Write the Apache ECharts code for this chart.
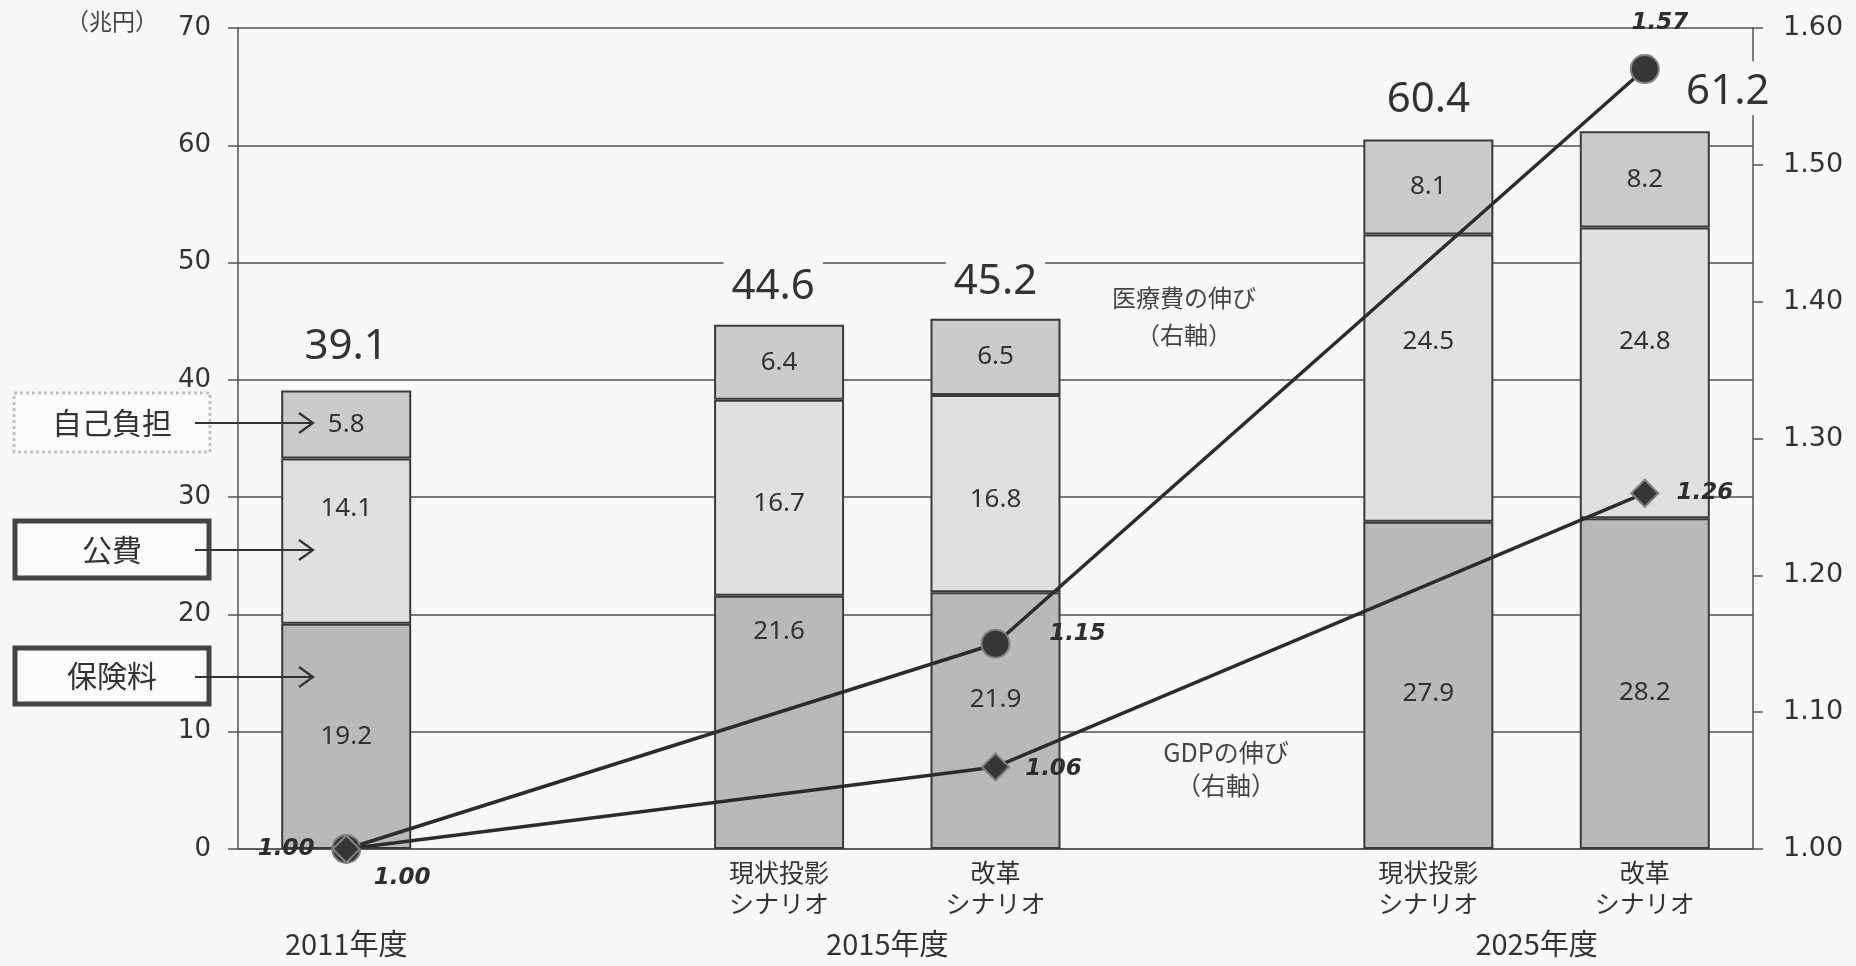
<!DOCTYPE html>
<html>
<head>
<meta charset="utf-8">
<script src="https://cdn.jsdelivr.net/npm/echarts@6/dist/echarts.min.js"></script>
<style>
html, body { margin: 0; padding: 0; background: #f8f8f8; }
#main { width: 1856px; height: 966px; }
</style>
</head>
<body>
<div id="main"></div>
<script>
// categories: 2011, (gap), 2015 x2, (gap), 2025 x2
var categories = ['', '', '現状投影\nシナリオ', '改革\nシナリオ', '', '現状投影\nシナリオ', '改革\nシナリオ'];
var hokenryo = [19.2, null, 21.6, 21.9, null, 27.9, 28.2];   // 保険料
var kouhi = [14.1, null, 16.7, 16.8, null, 24.5, 24.8];      // 公費
var jikoFutan = [5.8, null, 6.4, 6.5, null, 8.1, 8.2];       // 自己負担
var totals = [39.1, null, 44.6, 45.2, null, 60.4, 61.2];
var iryohiNobi = [1.00, null, null, 1.15, null, null, 1.57]; // 医療費の伸び
var gdpNobi = [1.00, null, null, 1.06, null, null, 1.26];    // GDPの伸び
var yearGroups = ['2011年度', '2015年度', '2025年度'];
var yearGroupAt = [0.5, 3, 6];

// label tweaks (style only)
var hokenryoShift = [0, 0, -91, -21, 0, 8, 9];
var kouhiShift = [-33, 0, 6, 6, 0, -37, -31];
var totalShift = [[0, -6], null, [-6, -2], [0, 0], null, [0, -4], [83, -2]];
var iryohiLabelPos = [[56, 29], null, null, [82, -10], null, null, [15, -46]];
var gdpLabelPos = [[-60, 0], null, null, [58, 2], null, null, [60, 0]];

var chart = echarts.init(document.getElementById('main'));

function shifted(values, shifts) {
  return values.map(function (v, i) {
    if (v == null) return null;
    return { value: v, label: { offset: [0, shifts[i]] } };
  });
}

function lineData(values, pos) {
  return values.map(function (v, i) {
    if (v == null) return null;
    return { value: v, label: { offset: pos[i] } };
  });
}

var segLabel = {
  show: true,
  position: 'inside',
  color: '#333',
  fontFamily: 'Noto Sans',
  fontSize: 26,
  formatter: function (p) { return p.value.toFixed(1); }
};
var barBorder = { borderColor: '#3a3a3a', borderWidth: 2 };
var lineLabel = {
  show: true,
  position: 'inside',
  color: '#2e2e2e',
  fontFamily: 'DejaVu Sans',
  fontWeight: 'bold',
  fontStyle: 'italic',
  fontSize: 23,
  formatter: function (p) { return p.value.toFixed(2); }
};
var jpText = function (txt, x, y, size, color, lh) {
  return {
    type: 'text', x: x, y: y, z: 100,
    style: {
      text: txt, fill: color, fontFamily: 'Noto Sans CJK JP', fontSize: size,
      lineHeight: lh || size * 1.3, align: 'center', verticalAlign: 'middle'
    }
  };
};
var arrow = function (y) {
  return [
    { type: 'polyline', z: 100, shape: { points: [[195, y], [313, y]] }, style: { stroke: '#333', lineWidth: 2, fill: null } },
    { type: 'polyline', z: 100, shape: { points: [[299, y - 10], [313, y], [299, y + 10]] }, style: { stroke: '#333', lineWidth: 2.2, fill: null } }
  ];
};

var notes = [
  jpText('（兆円）', 112, 21, 23, '#444'),
  { type: 'rect', z: 99, shape: { x: 14, y: 393, width: 196, height: 59 },
    style: { fill: '#fbfbfb', stroke: '#c2c2c2', lineWidth: 3, lineDash: [3, 3] } },
  jpText('自己負担', 112, 423, 30, '#333'),
  { type: 'rect', z: 99, shape: { x: 15, y: 521, width: 194, height: 57 },
    style: { fill: '#fbfbfb', stroke: '#444', lineWidth: 5 } },
  jpText('公費', 112, 550, 30, '#333'),
  { type: 'rect', z: 99, shape: { x: 15, y: 648, width: 194, height: 56 },
    style: { fill: '#fbfbfb', stroke: '#444', lineWidth: 5 } },
  jpText('保険料', 112, 676, 30, '#333'),
  jpText('医療費の伸び\n（右軸）', 1184, 316, 24, '#444', 37),
  jpText('GDPの伸び\n（右軸）', 1226, 769, 25, '#444', 33)
].concat(arrow(423), arrow(550), arrow(677));

var option = {
  backgroundColor: '#f8f8f8',
  animation: false,
  grid: { left: 238, right: 103, top: 28, bottom: 117 },
  xAxis: [{
    type: 'category',
    data: categories,
    axisLine: { lineStyle: { color: '#555', width: 1.5 } },
    axisTick: { show: false },
    axisLabel: {
      interval: 0,
      margin: 8,
      color: '#333',
      fontFamily: 'Noto Sans CJK JP',
      fontSize: 25,
      lineHeight: 31
    }
  }, {
    type: 'value',
    position: 'bottom',
    min: 0,
    max: 7,
    interval: 0.5,
    axisLine: { show: false },
    axisTick: { show: false },
    splitLine: { show: false },
    axisLabel: {
      margin: 80,
      color: '#333',
      fontFamily: 'Noto Sans CJK JP',
      fontSize: 29,
      formatter: function (v) {
        var k = yearGroupAt.indexOf(v);
        return k >= 0 ? yearGroups[k] : '';
      }
    }
  }],
  yAxis: [{
    type: 'value',
    min: 0,
    max: 70,
    interval: 10,
    axisLine: { show: true, lineStyle: { color: '#555', width: 1.5 } },
    axisTick: { show: true, length: 10, lineStyle: { color: '#555', width: 1.5 } },
    splitLine: { lineStyle: { color: '#505050', width: 1.6 } },
    axisLabel: { margin: 27, color: '#333', fontFamily: 'DejaVu Sans', fontSize: 26 }
  }, {
    type: 'value',
    position: 'right',
    min: 1.0,
    max: 1.6,
    interval: 0.1,
    axisLine: { show: true, lineStyle: { color: '#555', width: 1.5 } },
    axisTick: { show: true, length: 10, lineStyle: { color: '#555', width: 1.5 } },
    splitLine: { show: false },
    axisLabel: {
      margin: 30, color: '#333', fontFamily: 'DejaVu Sans', fontSize: 27,
      formatter: function (v) { return v.toFixed(2); }
    }
  }],
  series: [{
    name: '保険料',
    type: 'bar',
    stack: 'cost',
    barWidth: 130,
    barGap: '-100%',
    data: shifted(hokenryo, hokenryoShift),
    itemStyle: Object.assign({ color: '#b9b9b9' }, barBorder),
    label: segLabel
  }, {
    name: '公費',
    type: 'bar',
    stack: 'cost',
    barWidth: 130,
    barGap: '-100%',
    data: shifted(kouhi, kouhiShift),
    itemStyle: Object.assign({ color: '#e0e0e0' }, barBorder),
    label: segLabel
  }, {
    name: '自己負担',
    type: 'bar',
    stack: 'cost',
    barWidth: 130,
    barGap: '-100%',
    data: jikoFutan,
    itemStyle: Object.assign({ color: '#cbcbcb' }, barBorder),
    label: segLabel
  }, {
    name: '合計',
    type: 'bar',
    barWidth: 130,
    barGap: '-100%',
    z: 1,
    data: totals.map(function (v, i) {
      if (v == null) return null;
      return { value: v, label: { offset: totalShift[i] } };
    }),
    itemStyle: { color: 'rgba(0,0,0,0)', borderWidth: 0 },
    label: {
      show: true,
      position: 'top',
      distance: 14,
      color: '#333',
      fontFamily: 'Noto Sans',
      fontSize: 42,
      backgroundColor: '#f8f8f8',
      padding: [10, 8, 2, 8]
    },
    silent: true
  }, {
    name: '医療費の伸び',
    type: 'line',
    yAxisIndex: 1,
    connectNulls: true,
    data: lineData(iryohiNobi, iryohiLabelPos),
    symbol: 'circle',
    symbolSize: 28,
    lineStyle: { color: '#2c2c2c', width: 3.5 },
    itemStyle: { color: '#363636', borderColor: '#808080', borderWidth: 2 },
    label: lineLabel,
    z: 5
  }, {
    name: 'GDPの伸び',
    type: 'line',
    yAxisIndex: 1,
    connectNulls: true,
    data: lineData(gdpNobi, gdpLabelPos),
    symbol: 'diamond',
    symbolSize: 27,
    lineStyle: { color: '#2c2c2c', width: 3.5 },
    itemStyle: { color: '#363636', borderColor: '#808080', borderWidth: 2 },
    label: lineLabel,
    z: 6
  }],
  graphic: notes
};

chart.setOption(option);
</script>
</body>
</html>
